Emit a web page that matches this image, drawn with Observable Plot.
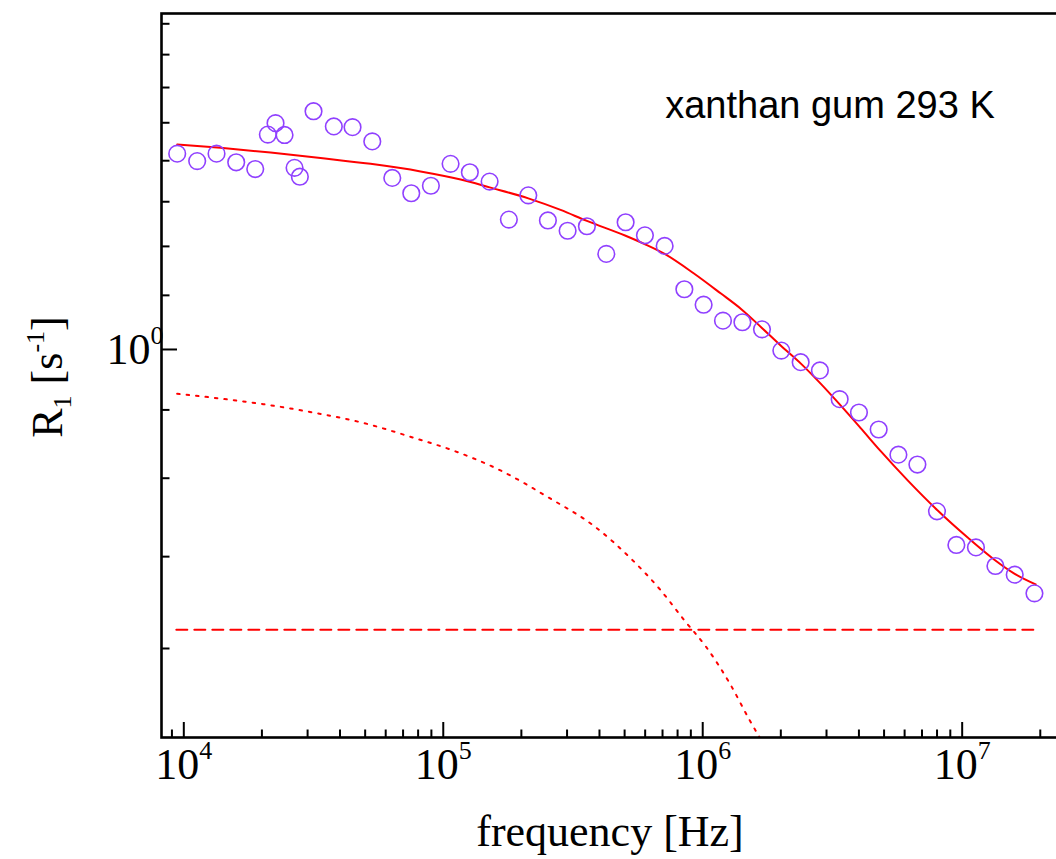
<!DOCTYPE html>
<html>
<head>
<meta charset="utf-8">
<script src="https://cdn.jsdelivr.net/npm/d3@7"></script>
<script src="https://cdn.jsdelivr.net/npm/@observablehq/plot@0.6"></script>
<style>
  html, body { margin: 0; padding: 0; background: #fff; overflow: hidden; }
  #chart svg { display: block; max-width: none; overflow: hidden; }
</style>
</head>
<body>
<div id="chart"></div>
<script>
// measured relaxation rates
const freq = [9430, 11260, 13370, 15920, 18850, 21080, 22570, 24450, 26720, 28010, 31620, 37860, 44700, 53260, 63600, 75290, 89600, 106700, 126600, 150900, 179000, 212700, 253100, 301500, 357800, 425000, 504500, 598700, 713300, 849600, 1008000, 1197000, 1422000, 1692000, 2009000, 2385000, 2829000, 3371000, 4001000, 4766000, 5678000, 6720000, 7996000, 9497000, 11300000, 13430000, 15940000, 18990000];
const r1 = [1.418, 1.399, 1.418, 1.396, 1.379, 1.468, 1.499, 1.467, 1.382, 1.360, 1.532, 1.490, 1.488, 1.450, 1.357, 1.320, 1.338, 1.392, 1.371, 1.348, 1.259, 1.315, 1.257, 1.234, 1.244, 1.184, 1.253, 1.224, 1.201, 1.112, 1.082, 1.052, 1.049, 1.036, 0.998, 0.978, 0.964, 0.917, 0.896, 0.870, 0.833, 0.819, 0.756, 0.714, 0.711, 0.689, 0.679, 0.658];

// total fit (solid)
const fitFreq = [9432, 13850, 21590, 33650, 52450, 81750, 116700, 150900, 212700, 283300, 357800, 504400, 597100, 713300, 922400, 1172000, 1412000, 1687000, 1997000, 2385000, 2848000, 3400000, 4063000, 4853000, 6165000, 8048000, 10500000, 13230000, 15940000, 19200000];
const fitR1 = [1.442, 1.433, 1.421, 1.407, 1.392, 1.373, 1.353, 1.334, 1.308, 1.281, 1.256, 1.223, 1.205, 1.184, 1.144, 1.104, 1.073, 1.039, 1.007, 0.976, 0.942, 0.907, 0.872, 0.838, 0.797, 0.757, 0.723, 0.697, 0.680, 0.668];

// component (dotted)
const dotFreq = [9425, 13760, 20250, 31400, 49550, 76900, 109200, 166300, 253500, 386600, 529700, 689500, 850700, 1032500, 1274000, 1519000, 1657000];
const dotR1 = [0.9256, 0.918, 0.909, 0.896, 0.8796, 0.8576, 0.839, 0.8107, 0.7744, 0.7358, 0.6975, 0.6612, 0.6287, 0.6013, 0.5658, 0.5326, 0.518];

// constant contribution (dashed)
const dashFreq = [9357, 18870000];
const dashR1 = [0.619, 0.619];

// axis ticks
const xMajor = [1e4, 1e5, 1e6, 1e7];
const xMinor = [9e3, 2e4, 3e4, 4e4, 5e4, 6e4, 7e4, 8e4, 9e4, 2e5, 3e5, 4e5, 5e5, 6e5, 7e5, 8e5, 9e5, 2e6, 3e6, 4e6, 5e6, 6e6, 7e6, 8e6, 9e6, 2e7];
const yMajor = [1];
const yMinor = [0.6, 0.7, 0.8, 0.9, 1.1, 1.2, 1.3, 1.4, 1.5, 1.6, 1.7, 1.8];

const annotation = "xanthan gum 293 K";

const pts = freq.map((f, i) => ({f, r: r1[i]}));
const fit = fitFreq.map((f, i) => ({f, r: fitR1[i]}));
const dot = dotFreq.map((f, i) => ({f, r: dotR1[i]}));
const dash = dashFreq.map((f, i) => ({f, r: dashR1[i]}));

const serif = "'Liberation Serif', 'Times New Roman', serif";
const sans = "'Liberation Sans', Arial, sans-serif";

const chart = Plot.plot({
  width: 1056,
  height: 859,
  marginLeft: 161,
  marginRight: -10,
  marginTop: 13,
  marginBottom: 122,
  style: {background: "white", fontFamily: serif, color: "black"},
  x: {type: "log", domain: [8204, 2.524e7]},
  y: {type: "pow", exponent: -0.1, domain: [0.5179, 1.8348]},
  marks: [
    Plot.line(dash, {x: "f", y: "r", stroke: "#ff0000", strokeWidth: 2, strokeDasharray: "11,7"}),
    Plot.line(dot, {x: "f", y: "r", stroke: "#ff0000", strokeWidth: 2, strokeDasharray: "2.5,7", curve: "monotone-x", clip: true}),
    Plot.line(fit, {x: "f", y: "r", stroke: "#ff0000", strokeWidth: 2, curve: "monotone-x"}),
    Plot.dot(pts, {x: "f", y: "r", r: 8.3, stroke: "#9040ff", strokeWidth: 1.6, fill: "none"}),
    Plot.axisX({ticks: xMinor, tickSize: -7.5, strokeWidth: 2, tickFormat: () => "", label: null}),
    Plot.axisX({ticks: xMajor, tickSize: -15, strokeWidth: 2, tickPadding: 25, fontSize: 44, fontFamily: serif, tickFormat: d => "10^" + Math.round(Math.log10(d)), label: null}),
    Plot.axisY({ticks: yMinor, tickSize: -8.5, strokeWidth: 2, tickFormat: () => "", label: null}),
    Plot.axisY({ticks: yMajor, tickSize: -16, strokeWidth: 2, tickPadding: 14, fontSize: 44, fontFamily: serif, tickFormat: () => "10^0", label: null}),
    Plot.frame({stroke: "black", strokeWidth: 2.6})
  ]
});

document.getElementById("chart").appendChild(chart);

const svg = d3.select(chart);

// superscripts in tick labels
svg.selectAll("text").each(function() {
  const t = this.textContent;
  if (/^10\^\d+$/.test(t)) {
    const exp = t.split("^")[1];
    const sel = d3.select(this);
    sel.text("10");
    sel.append("tspan").attr("dy", -20).attr("font-size", 26).text(exp);
  }
});

// x axis title
svg.append("text")
  .attr("x", 610).attr("y", 846)
  .attr("text-anchor", "middle")
  .attr("font-family", serif).attr("font-size", 44)
  .attr("fill", "black")
  .text("frequency [Hz]");

// y axis title
const yl = svg.append("text")
  .attr("transform", "translate(62,377) rotate(-90)")
  .attr("text-anchor", "middle")
  .attr("font-family", serif).attr("font-size", 44)
  .attr("fill", "black");
yl.append("tspan").text("R");
yl.append("tspan").attr("dy", 9).attr("font-size", 26).text("1");
yl.append("tspan").attr("dy", -9).text(" [s");
yl.append("tspan").attr("dy", -18).attr("font-size", 26).text("-1");
yl.append("tspan").attr("dy", 18).text("]");

// annotation
svg.append("text")
  .attr("x", 830).attr("y", 118)
  .attr("text-anchor", "middle")
  .attr("font-family", sans).attr("font-size", 38)
  .attr("fill", "black")
  .text(annotation);
</script>
</body>
</html>
